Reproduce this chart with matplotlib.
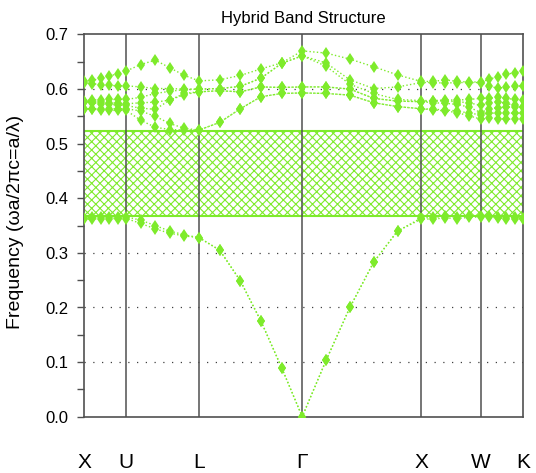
import numpy as np
import matplotlib
matplotlib.use("Agg")
import matplotlib.pyplot as plt
from matplotlib.ticker import MultipleLocator

plt.rcParams['font.family'] = ['Liberation Sans', 'DejaVu Sans']
plt.rcParams['hatch.linewidth'] = 0.8

# high-symmetry path (fcc), segment lengths in units of 2*pi/a
labels = ["X", "U", "L", "Γ", "X", "W", "K"]
seg_len = [np.sqrt(2) / 4, np.sqrt(6) / 4, np.sqrt(3) / 2, 1.0, 0.5, np.sqrt(2) / 4]
n_step = 5

# bands, 31 k-points each (X-U, U-L, L-G, G-X, X-W, W-K)
band1 = [0.362, 0.362, 0.363, 0.363, 0.363, 0.363,
         0.354, 0.344, 0.336, 0.331, 0.328,
         0.305, 0.249, 0.175, 0.090, 0.000,
         0.103, 0.200, 0.283, 0.340, 0.362,
         0.362, 0.364, 0.363, 0.365, 0.366,
         0.366, 0.364, 0.363, 0.363, 0.362]
band2 = [0.364, 0.365, 0.365, 0.366, 0.366, 0.366,
         0.360, 0.350, 0.340, 0.333, 0.328,
         0.305, 0.249, 0.175, 0.090, 0.000,
         0.103, 0.200, 0.283, 0.340, 0.364,
         0.365, 0.367, 0.366, 0.368, 0.368,
         0.368, 0.366, 0.365, 0.365, 0.364]
band3 = [0.564, 0.563, 0.562, 0.561, 0.561, 0.561,
         0.543, 0.530, 0.526, 0.525, 0.525,
         0.539, 0.564, 0.586, 0.592, 0.593,
         0.592, 0.589, 0.575, 0.568, 0.564,
         0.562, 0.560, 0.557, 0.551, 0.545,
         0.547, 0.546, 0.545, 0.545, 0.545]
band4 = [0.564, 0.564, 0.564, 0.564, 0.564, 0.564,
         0.560, 0.550, 0.537, 0.528, 0.525,
         0.539, 0.564, 0.586, 0.592, 0.593,
         0.592, 0.589, 0.575, 0.568, 0.564,
         0.563, 0.562, 0.560, 0.556, 0.553,
         0.556, 0.556, 0.556, 0.556, 0.556]
band5 = [0.577, 0.575, 0.573, 0.572, 0.571, 0.570,
         0.565, 0.563, 0.580, 0.590, 0.595,
         0.597, 0.595, 0.604, 0.603, 0.604,
         0.604, 0.600, 0.583, 0.578, 0.577,
         0.575, 0.574, 0.572, 0.567, 0.557,
         0.564, 0.566, 0.567, 0.567, 0.567]
band6 = [0.577, 0.577, 0.576, 0.575, 0.574, 0.573,
         0.575, 0.576, 0.580, 0.592, 0.595,
         0.597, 0.595, 0.604, 0.603, 0.604,
         0.604, 0.600, 0.583, 0.578, 0.577,
         0.578, 0.578, 0.577, 0.575, 0.570,
         0.575, 0.577, 0.574, 0.570, 0.567]
band7 = [0.579, 0.580, 0.580, 0.581, 0.581, 0.581,
         0.585, 0.592, 0.596, 0.599, 0.600,
         0.601, 0.605, 0.620, 0.647, 0.661,
         0.642, 0.609, 0.592, 0.581, 0.579,
         0.579, 0.580, 0.580, 0.581, 0.583,
         0.583, 0.585, 0.583, 0.581, 0.580]
band8 = [0.612, 0.610, 0.608, 0.607, 0.606, 0.606,
         0.604, 0.601, 0.601, 0.600, 0.600,
         0.601, 0.605, 0.620, 0.647, 0.661,
         0.648, 0.617, 0.601, 0.604, 0.612,
         0.612, 0.611, 0.612, 0.612, 0.612,
         0.605, 0.602, 0.603, 0.605, 0.606]
band9 = [0.614, 0.616, 0.620, 0.624, 0.628, 0.633,
         0.645, 0.653, 0.639, 0.625, 0.615,
         0.617, 0.625, 0.637, 0.648, 0.670,
         0.666, 0.655, 0.641, 0.626, 0.614,
         0.614, 0.617, 0.614, 0.613, 0.613,
         0.618, 0.623, 0.627, 0.630, 0.633]
bands = [band1, band2, band3, band4, band5, band6, band7, band8, band9]

gap_bottom = 0.368
gap_top = 0.523

green = "#7EEB2B"
frame = "#505050"

# k positions along the path
knodes = np.concatenate([[0.0], np.cumsum(seg_len)])
kx = [knodes[0]]
for i in range(len(seg_len)):
    kx.extend(np.linspace(knodes[i], knodes[i + 1], n_step + 1)[1:])
kx = np.array(kx)

fig = plt.figure(figsize=(5.36, 4.73), dpi=100)
ax = fig.add_axes([84 / 536, 1 - 416.7 / 473, 439 / 536, 382.2 / 473])

# dotted horizontal grid
for y in np.arange(0.1, 0.7, 0.1):
    ax.axhline(y, color="#404040", lw=0.9, ls=(0, (1, 6)), zorder=1)

# photonic band gap
ax.fill_between([knodes[0], knodes[-1]], gap_bottom, gap_top, facecolor="white",
                edgecolor=green, hatch="xxxx", linewidth=0, zorder=2)
ax.axhline(gap_bottom, color=green, lw=1.5, zorder=2.5)
ax.axhline(gap_top, color=green, lw=1.5, zorder=2.5)

for kk in knodes[1:-1]:
    ax.axvline(kk, color=frame, lw=1.1, zorder=3)

for b in bands:
    ax.plot(kx, b, ls=":", lw=1.0, color=green, marker="d", ms=6,
            mec=green, mfc=green, mew=0, zorder=4)

ax.set_xlim(knodes[0], knodes[-1])
ax.set_ylim(0, 0.7)
ax.yaxis.set_major_locator(MultipleLocator(0.1))
ax.yaxis.set_minor_locator(MultipleLocator(0.05))
ax.yaxis.set_major_formatter(matplotlib.ticker.FormatStrFormatter("%.1f"))
ax.tick_params(axis="y", which="both", direction="out", length=5, width=1,
               color=frame, labelsize=12, pad=6)
ax.set_xticks(knodes)
ax.set_xticklabels(labels)
ax.tick_params(axis="x", length=0, labelsize=15, pad=26)
for s in ax.spines.values():
    s.set_color(frame)
    s.set_linewidth(1.2)

ax.set_title("Hybrid Band Structure", fontsize=12, pad=8)
fig.text(16 / 536, 0.5 + (473 / 2 - 222) / 473, "Frequency (ωa/2πc=a/λ)",
         rotation=90, ha="center", va="center", fontsize=14)

fig.savefig("out.png", dpi=100)
